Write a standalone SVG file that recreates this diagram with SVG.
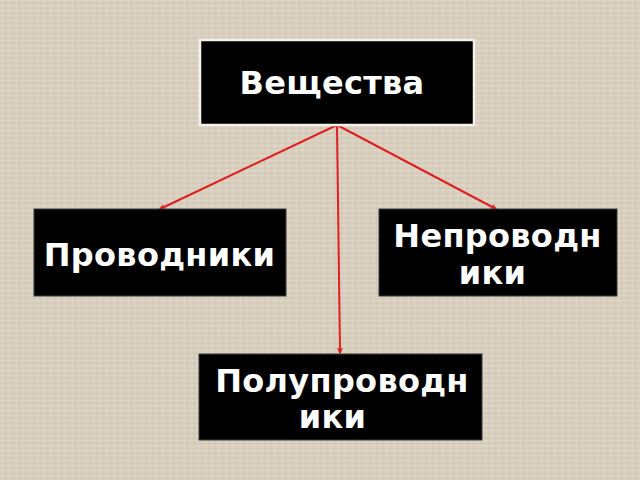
<svg xmlns="http://www.w3.org/2000/svg" width="640" height="480" viewBox="0 0 640 480">
<defs>
<pattern id="linen" width="7" height="5" patternUnits="userSpaceOnUse">
<rect width="7" height="5" fill="#d8cfbf"/>
<rect x="0" y="0" width="7" height="1" fill="#e2dacb" opacity="0.8"/>
<rect x="0" y="3" width="7" height="1" fill="#cfc6b5" opacity="0.6"/>
<rect x="2" y="0" width="1" height="5" fill="#e0d8c9" opacity="0.5"/>
<rect x="5" y="0" width="1" height="5" fill="#cbc1b0" opacity="0.4"/>
</pattern>
<marker id="arr" viewBox="0 0 10 10" refX="9" refY="5" markerWidth="6" markerHeight="6" orient="auto" markerUnits="userSpaceOnUse">
<path d="M1,1 L9,5 L1,9" fill="none" stroke="#e01e1e" stroke-width="2"/>
</marker>
</defs>
<style>
.box{fill:#000;stroke:#3a3a3a;stroke-width:1}
.top{fill:#000;stroke:#f4f2ee;stroke-width:2.5}
.t{font-family:"DejaVu Sans",Verdana,sans-serif;font-weight:bold;fill:#fff;font-size:32px;letter-spacing:0.3px}
.edge{stroke:#e01e1e;stroke-width:2;fill:none;marker-end:url(#arr)}
</style>
<rect width="640" height="480" fill="url(#linen)"/>
<g id="connectors">
<line class="edge" x1="337" y1="125" x2="160" y2="209"/>
<line class="edge" x1="337" y1="125" x2="496" y2="209"/>
<line class="edge" x1="337" y1="125" x2="340" y2="353"/>
</g>
<g id="node-veshchestva">
<rect class="top" x="200" y="40" width="274" height="85"/>
<text class="t" x="332" y="94" text-anchor="middle" font-size="30" letter-spacing="0.8">Вещества</text>
</g>
<g id="node-provodniki">
<rect class="box" x="34" y="209" width="252" height="87"/>
<text class="t" x="159.5" y="266" text-anchor="middle">Проводники</text>
</g>
<g id="node-neprovodniki">
<rect class="box" x="379" y="209" width="238" height="87"/>
<text class="t" text-anchor="middle"><tspan x="497.5" y="247">Непроводн</tspan><tspan x="492.5" y="284">ики</tspan></text>
</g>
<g id="node-poluprovodniki">
<rect class="box" x="199" y="354" width="283" height="86"/>
<text class="t" text-anchor="middle"><tspan x="342" y="392">Полупроводн</tspan><tspan x="332.5" y="428">ики</tspan></text>
</g>
</svg>
